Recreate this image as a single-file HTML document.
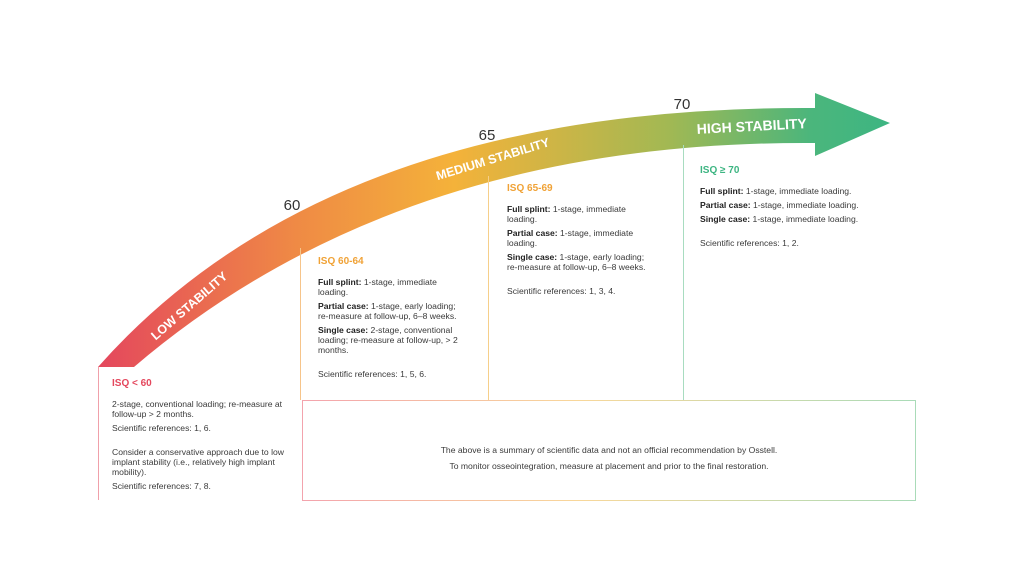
<!DOCTYPE html>
<html><head><meta charset="utf-8"><style>
body{margin:0;background:#fff;width:1024px;height:587px;overflow:hidden;position:relative;font-family:"Liberation Sans",sans-serif;color:#333}
.t{position:absolute;font-size:8.6px;line-height:10px;color:#3a3a3a}
.t p{margin:0 0 4px 0}
.h{font-weight:bold;font-size:10px;margin-bottom:10px!important}
b{color:#222}
</style></head><body>
<svg width="1024" height="587" style="position:absolute;left:0;top:0">
<defs>
<linearGradient id="g" x1="98" y1="0" x2="890" y2="0" gradientUnits="userSpaceOnUse">
<stop offset="0" stop-color="#e4475d"/><stop offset="0.25" stop-color="#ef8a45"/><stop offset="0.45" stop-color="#f4b23a"/><stop offset="0.72" stop-color="#a2b853"/><stop offset="0.9" stop-color="#4bb67c"/><stop offset="1" stop-color="#3db582"/>
</linearGradient>
<linearGradient id="b" x1="302" y1="0" x2="916" y2="0" gradientUnits="userSpaceOnUse">
<stop offset="0" stop-color="#f3a3ad"/><stop offset="0.45" stop-color="#f8d79a"/><stop offset="1" stop-color="#a9dbb8"/>
</linearGradient>
</defs>
<path d="M98,367 Q330,105 815,108 L815,93 L890,123 L815,156 L815,143 Q400,140 134,367 Z" fill="url(#g)"/>
<line x1="98.5" y1="367" x2="98.5" y2="500" stroke="#f0a0aa" stroke-width="1"/>
<line x1="300.5" y1="248" x2="300.5" y2="400" stroke="#f6c48a" stroke-width="1"/>
<line x1="488.5" y1="176" x2="488.5" y2="400" stroke="#f6cf8a" stroke-width="1"/>
<line x1="683.5" y1="145" x2="683.5" y2="400" stroke="#a8dcc0" stroke-width="1"/>
<rect x="302.5" y="400.5" width="613" height="100" fill="none" stroke="url(#b)" stroke-width="1"/>
<g font-family="Liberation Sans,sans-serif" font-weight="bold" fill="#fff" font-size="12.5">
<text transform="translate(192,309) rotate(-41)" text-anchor="middle">LOW STABILITY</text>
<text transform="translate(494,163) rotate(-17)" text-anchor="middle">MEDIUM STABILITY</text>
<text transform="translate(752,131) rotate(-3)" text-anchor="middle" font-size="14">HIGH STABILITY</text>
</g>
<g font-family="Liberation Sans,sans-serif" fill="#333" font-size="15">
<text x="292" y="210" text-anchor="middle">60</text>
<text x="487" y="140" text-anchor="middle">65</text>
<text x="682" y="109" text-anchor="middle">70</text>
</g>
</svg>
<div class="t" style="left:112px;top:379px;width:176px">
<p class="h" style="color:#e4475d">ISQ &lt; 60</p>
<p>2-stage, conventional loading; re-measure at follow-up &gt; 2 months.</p>
<p style="margin-bottom:14px">Scientific references: 1, 6.</p>
<p>Consider a conservative approach due to low implant stability (i.e., relatively high implant mobility).</p>
<p>Scientific references: 7, 8.</p>
</div>
<div class="t" style="left:318px;top:257px;width:140px">
<p class="h" style="color:#f0a236">ISQ 60-64</p>
<p><b>Full splint:</b> 1-stage, immediate loading.</p>
<p><b>Partial case:</b> 1-stage, early loading; re-measure at follow-up, 6–8 weeks.</p>
<p style="margin-bottom:14px"><b>Single case:</b> 2-stage, conventional loading; re-measure at follow-up, &gt; 2 months.</p>
<p>Scientific references: 1, 5, 6.</p>
</div>
<div class="t" style="left:507px;top:184px;width:145px">
<p class="h" style="color:#f0a236">ISQ 65-69</p>
<p><b>Full splint:</b> 1-stage, immediate loading.</p>
<p><b>Partial case:</b> 1-stage, immediate loading.</p>
<p style="margin-bottom:14px"><b>Single case:</b> 1-stage, early loading; re-measure at follow-up, 6–8 weeks.</p>
<p>Scientific references: 1, 3, 4.</p>
</div>
<div class="t" style="left:700px;top:166px;width:175px">
<p class="h" style="color:#3db582">ISQ ≥ 70</p>
<p><b>Full splint:</b> 1-stage, immediate loading.</p>
<p><b>Partial case:</b> 1-stage, immediate loading.</p>
<p style="margin-bottom:14px"><b>Single case:</b> 1-stage, immediate loading.</p>
<p>Scientific references: 1, 2.</p>
</div>
<div class="t" style="left:302px;top:442px;width:614px;text-align:center;line-height:16px">The above is a summary of scientific data and not an official recommendation by Osstell.<br>To monitor osseointegration, measure at placement and prior to the final restoration.</div>
</body></html>
